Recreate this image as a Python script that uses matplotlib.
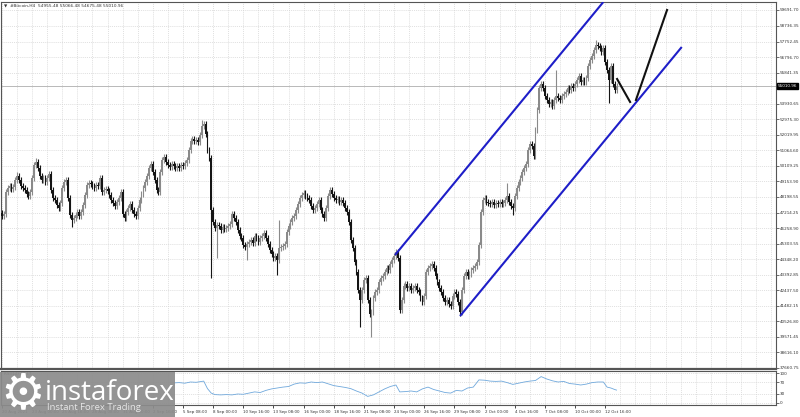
import matplotlib
matplotlib.use('Agg')
import matplotlib.pyplot as plt
import numpy as np
from matplotlib.patches import Rectangle

# ---- data (H4 bars, 20 Aug 08:00 .. 13 Oct 16:00) ----
CLOSES = [
    47015, 47138, 48494, 48738, 48862, 48677, 48800, 49230, 49476, 49230,
    48862, 48738, 48615, 48369, 48246, 48494, 49353, 50154, 50338, 49969,
    49476, 49230, 49353, 49107, 49353, 49599, 48615, 48123, 48000, 47692,
    47507, 47815, 48738, 49107, 49230, 48123, 47076, 46768, 46892, 47076,
    47261, 47015, 47261, 47692, 48307, 48923, 49046, 48984, 48862, 48738,
    48923, 48862, 49353, 48494, 48615, 48677, 48553, 48307, 48000, 47815,
    47630, 47876, 48123, 48494, 47138, 46892, 47261, 47507, 47754, 47384,
    47138, 47015, 47507, 48000, 48369, 48738, 49107, 49476, 49969, 50215,
    49722, 49230, 48615, 48494, 49722, 50461, 50646, 50338, 50154, 50030,
    50215, 50092, 49969, 50092, 49969, 50154, 50092, 50277, 50461, 51077,
    51631, 51754, 51631, 51692, 51569, 52000, 52554, 52677, 52061, 51077,
    50585, 47384, 46646, 46276, 46461, 46400, 46154, 46338, 46215, 46276,
    46400, 46523, 47138, 46892, 46646, 46154, 45784, 45661, 45230, 45107,
    45292, 45415, 45538, 45353, 45784, 45661, 45415, 45661,
    45784, 45968, 45661, 45292, 44922, 44676, 44430, 44553, 44307, 45046,
    45107, 45169, 45292, 46030, 46400, 46646, 46892, 47015, 47384, 47754,
    48123, 48307, 48430, 48246, 48123, 48000, 47630, 47384, 47507, 47754,
    48000, 47384, 47138, 46892, 47507, 48246, 48615, 48369, 48123, 48000,
    48061, 47876, 48000, 47815, 47507, 47261, 46646, 45538, 45046, 44184,
    43568, 42461, 41846, 42461, 43076, 43199, 41846, 40984, 41107, 41969,
    42338, 42461, 42953, 43199, 43322, 43568, 43815, 43692, 44061, 44307,
    44553, 44799, 44430, 41230, 41846, 42707, 42830, 42584, 42707, 42461,
    42584, 42707, 42461, 42338, 41969, 41723, 42093, 43568, 43815, 43938,
    44061, 43815, 43322, 42953, 42584, 42338, 41969, 41723, 41846, 41600,
    41477, 42093, 42338, 42215, 41723, 41107, 42461, 43322, 43568, 43322,
    43445, 43692, 43815, 43938, 44184, 45230, 47261, 48000, 48123, 47876,
    47815, 47754, 47876, 47692, 47815, 47754, 47876, 47754, 47815, 48000,
    48246, 47876, 47630, 47507, 48246, 48738, 49107, 49353, 49722, 49969,
    50215, 51077, 51445, 51322, 50708, 52307, 53538, 54892, 55138, 54892,
    54400, 54154, 53908, 54031, 53784, 54154, 54400, 54277, 54154, 54400,
    54523, 54646, 54892, 54769, 55015, 54892, 55138, 55384, 55630, 55261,
    55384, 55261, 55507, 56246, 56615, 56861, 57230, 57538, 57477, 57353,
    57107, 57353, 56492, 56000, 55384, 56246, 55138, 54769, 55010.96,
]
FIRST_OPEN = 47200
WICK = 170
SPIKE_LOWS = {37: 46340, 111: 43200, 114: 44430, 130: 44307, 146: 43384,
              190: 40184, 196: 39568, 243: 40860, 271: 47076, 322: 53969}
SPIKE_HIGHS = {8: 49700, 18: 50580, 106: 52920, 107: 52880, 147: 46768,
               268: 49046, 294: 55999, 315: 57845}

PRICE_TICKS = [37660.75, 38616.10, 39571.45, 40526.80, 41482.15, 42437.50,
               43392.85, 44348.20, 45303.55, 46258.90, 47214.25, 48198.55,
               49153.90, 50109.25, 51064.60, 52019.95, 52975.30, 53930.65,
               55841.35, 56796.70, 57752.45, 58736.35, 59691.70]
LAST_PRICE = 55010.96

TIME_LABELS = ['20 Aug 2021', '23 Aug 00:00', '25 Aug 16:00', '28 Aug 08:00',
               '31 Aug 00:00', '2 Sep 16:00', '5 Sep 08:00', '8 Sep 00:00',
               '10 Sep 16:00', '13 Sep 08:00', '16 Sep 00:00', '18 Sep 16:00',
               '21 Sep 08:00', '24 Sep 00:00', '26 Sep 16:00', '29 Sep 08:00',
               '2 Oct 00:00', '4 Oct 16:00', '7 Oct 08:00', '10 Oct 00:00',
               '12 Oct 16:00']

# channel and projection lines: (bar index, price)
CHANNEL_UPPER = ([208.5, 319.0], [44615, 60184])
CHANNEL_LOWER = ([243.0, 360.6], [40860, 57415])
PROJ_DOWN = ([326.3, 333.2], [55446, 54031])
PROJ_UP = ([336.3, 352.8], [54153, 59692])

RSI_BARS = [91, 94, 97, 100, 103, 105, 107, 109, 111, 113, 116, 119, 122, 125,
            128, 131, 134, 137, 140, 143, 146, 149, 152, 155, 158, 161, 164,
            167, 170, 173, 176, 179, 182, 185, 188, 191, 194, 197, 200, 203,
            206, 209, 211, 214, 217, 220, 223, 226, 229, 232, 235, 238, 241,
            244, 247, 250, 253, 256, 259, 262, 265, 268, 271, 274, 277, 280,
            283, 286, 289, 292, 295, 298, 301, 304, 307, 310, 313, 316, 319,
            321, 323, 325, 326]
RSI_VALUES = [67, 68, 66, 70, 69, 71, 73, 48, 33, 28, 27, 28, 27, 30,
              29, 33, 37, 35, 42, 47, 50, 53, 55, 63, 67, 66, 70,
              68, 70, 64, 58, 55, 52, 48, 40, 33, 22, 27, 37, 47,
              55, 60, 37, 38, 40, 37, 47, 53, 45, 40, 35, 33, 42,
              40, 50, 53, 77, 76, 73, 72, 73, 68, 62, 66, 70, 73,
              75, 88, 80, 74, 70, 72, 65, 63, 60, 63, 68, 70, 70,
              53, 50, 45, 43]

TITLE = '\u25bc  #Bitcoin,H4  54955.48 55066.48 54675.48 55010.96'

# ---- figure ----
W, H = 800, 417
fig = plt.figure(figsize=(8, 4.17), dpi=100)
fig.patch.set_facecolor('white')

XLIM = (-0.53, 410.6)
ax = fig.add_axes([1 / W, 48 / H, 775 / W, 367 / H])
ax2 = fig.add_axes([1 / W, 12 / H, 775 / W, 34 / H])

grid_kw = dict(color='#d4d4d4', linestyle=(0, (1.5, 1.5)), linewidth=0.5)

# candles
closes = np.array(CLOSES, dtype=float)
opens = np.concatenate([[FIRST_OPEN], closes[:-1]])
idx = np.arange(len(closes))
highs = np.maximum(opens, closes) + WICK
lows = np.minimum(opens, closes) - WICK
for i, v in SPIKE_HIGHS.items():
    highs[i] = v
for i, v in SPIKE_LOWS.items():
    lows[i] = v
up = closes >= opens
cols = np.where(up, '#8a8a8a', '#151515')
ax.vlines(idx, lows, highs, colors=cols, linewidth=0.8, zorder=3)
body_h = np.maximum(np.abs(closes - opens), 40)
ax.bar(idx, body_h, bottom=np.minimum(opens, closes), width=0.9,
       color=cols, linewidth=0, zorder=3)

# bid line
ax.axhline(LAST_PRICE, color='#b8b8b8', linewidth=0.7, zorder=2)

# channel + projection
ax.plot(*CHANNEL_UPPER, color='#1e1ec8', linewidth=1.5, zorder=4,
        solid_capstyle='butt')
ax.plot(*CHANNEL_LOWER, color='#1e1ec8', linewidth=1.5, zorder=4,
        solid_capstyle='butt')
ax.plot(*PROJ_DOWN, color='#111111', linewidth=1.5, zorder=4)
ax.plot(*PROJ_UP, color='#111111', linewidth=1.5, zorder=4)

ax.set_xlim(*XLIM)
ax.set_ylim(37599, 60184)
ax.yaxis.tick_right()
ax.set_yticks(PRICE_TICKS)
ax.set_yticklabels([f'{v:.2f}' for v in PRICE_TICKS])
ax.set_xticks(np.arange(0, 411, 8))
ax.set_xticklabels([])
ax.tick_params(axis='y', labelsize=3.0, length=2, width=0.5, pad=0.8,
               colors='#333333')
ax.tick_params(axis='x', length=0)
ax.grid(True, **grid_kw)
ax.set_axisbelow(True)
for s in ax.spines.values():
    s.set_color('#555555')
    s.set_linewidth(0.8)
ax.spines['bottom'].set_linewidth(1.6)

ax.annotate(f'{LAST_PRICE:.2f}', xy=(1.0, LAST_PRICE),
            xycoords=('axes fraction', 'data'), xytext=(1.3, 0),
            textcoords='offset points', fontsize=3.0, color='white',
            va='center', ha='left', annotation_clip=False, zorder=10,
            bbox=dict(boxstyle='square,pad=0.25', fc='black', ec='black'))
ax.text(0.004, 0.995, TITLE, transform=ax.transAxes, fontsize=3.1,
        color='#333333', va='top', ha='left')

# indicator pane
ax2.plot(RSI_BARS, RSI_VALUES, color='#6fa8dc', linewidth=0.6)
ax2.set_xlim(*XLIM)
ax2.set_ylim(-6.7, 106.7)
ax2.yaxis.tick_right()
ax2.set_yticks([0, 30, 70, 100])
ax2.set_yticklabels(['0', '30', '70', '100'])
ax2.tick_params(axis='y', labelsize=3.0, length=2, width=0.5, pad=0.8,
                colors='#333333')
ax2.set_xticks(np.arange(0, 321, 16))
ax2.set_xticklabels(TIME_LABELS, ha='left', fontsize=2.9, color='#333333')
ax2.set_xticks(np.arange(0, 411, 8), minor=True)
ax2.tick_params(axis='x', which='major', length=2, width=0.5, pad=1.5)
ax2.tick_params(axis='x', which='minor', length=0)
ax2.grid(True, which='both', axis='x', **grid_kw)
ax2.grid(True, axis='y', **grid_kw)
ax2.set_axisbelow(True)
for s in ax2.spines.values():
    s.set_color('#555555')
    s.set_linewidth(0.8)
ax2.text(0.004, 0.96, 'RSI(14) 43.17', transform=ax2.transAxes,
         fontsize=3.0, color='#333333', va='top', ha='left')

# watermark logo
fig.patches.append(Rectangle((0, 0), 175 / W, 45 / H, transform=fig.transFigure,
                             facecolor='#8c8c8c', edgecolor='none', alpha=0.93,
                             zorder=20))
fig.text(23 / W, 1 - 394 / H, '\u2699', fontsize=36, color='white',
         ha='center', va='center', zorder=21)
fig.text(45 / W, 1 - 400 / H, 'instaforex', fontsize=20, color='white',
         family='Open Sans', ha='left', va='baseline', zorder=21)
fig.text(47 / W, 1 - 408 / H, 'Instant Forex Trading', fontsize=6.8,
         color='#e6e6e6', family='Open Sans', ha='left', va='center',
         zorder=21)

fig.savefig('out.png', dpi=100)
